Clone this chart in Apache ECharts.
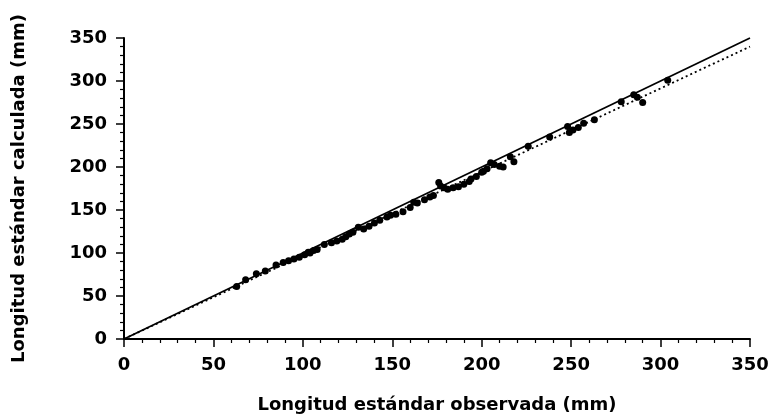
<!DOCTYPE html>
<html><head><meta charset="utf-8">
<script src="https://cdn.jsdelivr.net/npm/echarts@6/dist/echarts.min.js"></script>
<style>html,body{margin:0;padding:0;background:#fff}#c{width:773px;height:419px}</style>
</head><body><div id="c"></div>
<script>
var observed = [63,68,74,79,85,89,92,95,98,101,103,104,106,108,112,116,119,122,124,126,128,131,134,137,140,143,147,149,152,156,160,162,164,168,171,173,176,177,179,181,184,187,190,193,194,197,200,201,203,205,207,210,212,216,218,226,238,248,249,251,254,257,263,278,285,287,290,304];
var calculated = [61,69,76,79,86,89,91,93,95,98,101,100,103,104,110,112,114,116,119,122,124,130,128,131,135,138,142,144,145,148,153,159,158,162,165,167,182,178,176,174,176,177,180,183,186,189,194,195,198,205,203,201,200,212,206,224,235,247,240,243,246,251,255,276,284,281,275,301];
var identityLine = [[0,0],[350,350]];
var fitLine = [[0,0],[350,340]];
var xTicks = [0,50,100,150,200,250,300,350];
var yTicks = [0,50,100,150,200,250,300,350];

var pts = observed.map(function(x,i){return [x, calculated[i]];});
var font = '"DejaVu Sans", "Liberation Sans", sans-serif';
var chart = echarts.init(document.getElementById('c'));
function axis(name, isY){
  return {
    type:'value', min:0, max:350, interval:50,
    name:name, nameLocation:'middle', nameGap: isY?96:57,
    nameTextStyle:{fontFamily:font,fontWeight:'bold',fontSize:18,color:'#000'},
    axisLine:{show:true,onZero:false,lineStyle:{color:'#000',width:2}},
    axisTick:{show:true,length:8,lineStyle:{color:'#000',width:1.5}},
    minorTick:{show:true,splitNumber:5,length:4,lineStyle:{color:'#000',width:1.2}},
    splitLine:{show:false},
    axisLabel:{fontFamily:font,fontWeight:'bold',fontSize:18,color:'#000',margin:isY?17:17,
      formatter:function(v){return (isY?yTicks:xTicks).indexOf(v)>=0?String(v):'';}}
  };
}
chart.setOption({
  animation:false,
  backgroundColor:'#fff',
  grid:{left:124,right:23,top:38,bottom:80,containLabel:false},
  xAxis:axis('Longitud estándar observada (mm)', false),
  yAxis:axis('Longitud estándar calculada (mm)', true),
  series:[
    {type:'line',data:identityLine,symbol:'none',lineStyle:{color:'#000',width:1.8},z:2},
    {type:'line',data:fitLine,symbol:'none',lineStyle:{color:'#000',width:1.8,type:[2,3]},z:2},
    {type:'scatter',data:pts,symbol:'circle',symbolSize:7,itemStyle:{color:'#000',opacity:1},z:3}
  ]
});
</script></body></html>
